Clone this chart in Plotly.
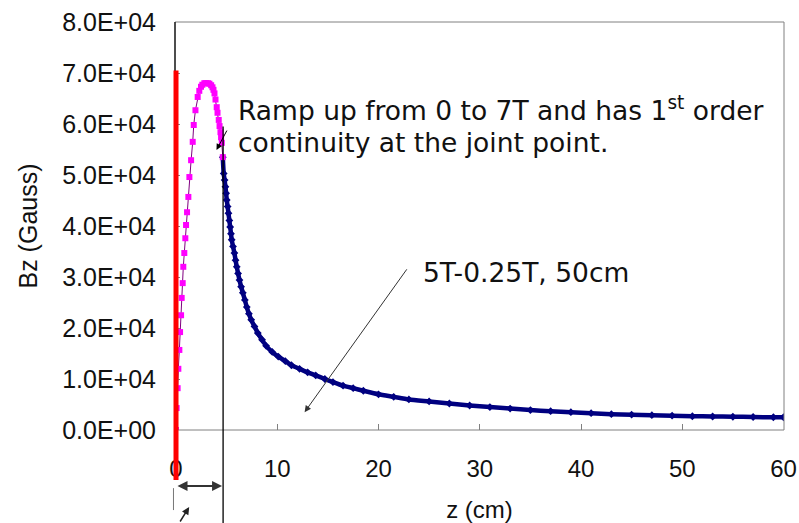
import plotly.graph_objects as go

# ---------------- data ----------------
ramp_z = [0.0, 0.06, 0.16, 0.23, 0.33, 0.40, 0.50, 0.56, 0.66, 0.72, 0.82, 0.92, 0.99,
          1.09, 1.22, 1.32, 1.49, 1.65, 1.75, 1.92, 2.14, 2.30, 2.47, 2.60, 2.80, 2.97,
          3.15, 3.30, 3.47, 3.60, 3.70, 3.80, 3.90, 4.02, 4.10, 4.22, 4.30, 4.39, 4.45,
          4.52, 4.62]
ramp_bz = [0, 4300, 8200, 12000, 15700, 19200, 22500, 25900, 28800, 32000, 34700, 37600, 40200,
           42700, 45700, 49600, 52900, 56500, 59800, 62700, 65300, 66500, 67300, 67700, 68000, 68000,
           68000, 67900, 67600, 67200, 66700, 66000, 64800, 63300, 62200, 60800, 59600, 58400, 57400,
           56300, 53500]

decay_z = [4.62, 4.71, 4.80, 4.88, 4.95, 5.01, 5.10, 5.18, 5.27, 5.35, 5.43, 5.50, 5.63, 5.77,
           5.88, 6.00, 6.13, 6.27, 6.43, 6.60, 6.80, 6.99, 7.20, 7.43, 7.75, 8.08, 8.50, 8.90,
           9.50, 10.1, 10.8, 11.4, 12.2, 13.0, 13.8, 14.7, 15.5, 16.5, 17.5, 18.5, 20.0, 21.5,
           23.0, 25.0, 27.0, 29.0, 31.0, 33.0, 35.0, 37.0, 39.0, 41.0, 43.0, 45.0, 47.0, 49.0,
           51.0, 53.0, 55.0, 57.0, 59.0, 60.0]
decay_bz = [53500, 50300, 49000, 47700, 46400, 45100, 43800, 42500, 41100, 39800, 38500, 37300,
            36000, 34700, 33300, 32000, 30700, 29400, 28100, 26900, 25500, 24100, 22800, 21600,
            20300, 19000, 17700, 16500, 15300, 14400, 13500, 12700, 12000, 11300, 10700, 10000,
            9400, 8700, 8200, 7700, 7000, 6500, 6000, 5600, 5200, 4800, 4500, 4200, 3900, 3700,
            3500, 3300, 3100, 3000, 2900, 2800, 2700, 2650, 2600, 2550, 2500, 2500]

y_tick_vals = [0, 10000, 20000, 30000, 40000, 50000, 60000, 70000, 80000]
y_tick_text = ["0.0E+00", "1.0E+04", "2.0E+04", "3.0E+04", "4.0E+04",
               "5.0E+04", "6.0E+04", "7.0E+04", "8.0E+04"]
x_tick_vals = [0, 10, 20, 30, 40, 50, 60]
x_tick_text = ["0", "10", "20", "30", "40", "50", "60"]

# annotation anchor values (data units)
edge_z, edge_top, edge_bottom = 0.0, 70500, -9800          # red coil edge line
joint_z, joint_top, joint_bottom = 4.65, 59500, -19000     # joint point line
length_arrow_z0, length_arrow_z1, length_arrow_b = 0.0, 4.55, -11000

X_RANGE = [-0.1, 60.05]
Y_RANGE = [0, 80000]
PLOT_W = 799 - 175 - 15


def px(z):
    return (z - X_RANGE[0]) / (X_RANGE[1] - X_RANGE[0])


def py(b):
    return (b - Y_RANGE[0]) / (Y_RANGE[1] - Y_RANGE[0])


FONT = "Arial, Liberation Sans, sans-serif"
NOTE_FONT = "DejaVu Sans, Arial, sans-serif"
NOTE_SIZE = 26.5

fig = go.Figure()

fig.add_trace(go.Scatter(
    x=decay_z, y=decay_bz, mode="lines+markers",
    line=dict(color="#000080", width=4.5, shape="spline", smoothing=0.6),
    marker=dict(symbol="diamond", size=6, color="#000080"),
    showlegend=False, hoverinfo="x+y"))

fig.add_trace(go.Scatter(
    x=ramp_z, y=ramp_bz, mode="lines+markers",
    line=dict(color="#800080", width=1),
    marker=dict(symbol="square", size=6, color="#FF00FF"),
    showlegend=False, hoverinfo="x+y"))

shapes = [
    # plot frame
    dict(type="rect", xref="paper", yref="paper", x0=0, x1=1, y0=0, y1=1,
         line=dict(color="#808080", width=1), layer="above"),
    # left axis line
    dict(type="line", xref="paper", yref="paper", x0=0, x1=0, y0=0, y1=1,
         line=dict(color="#000000", width=1.2), layer="above"),
    # joint line
    dict(type="line", xref="paper", yref="paper", x0=px(joint_z), x1=px(joint_z),
         y0=py(joint_bottom), y1=py(joint_top), line=dict(color="#000000", width=1.3)),
    # red edge line
    dict(type="line", xref="paper", yref="paper", x0=px(edge_z), x1=px(edge_z),
         y0=py(edge_bottom), y1=py(edge_top), line=dict(color="#FF0000", width=5), layer="above"),
    # small gray tick below
    dict(type="line", xref="paper", yref="paper", x0=px(-0.25), x1=px(-0.25),
         y0=py(-11400), y1=py(-15700), line=dict(color="#777777", width=1)),
]

annotations = [
    # double-headed length arrow below the axis
    dict(xref="paper", yref="paper", x=px(length_arrow_z1), y=py(length_arrow_b),
         ax=-(length_arrow_z1 - length_arrow_z0) * PLOT_W / (X_RANGE[1] - X_RANGE[0]), ay=0,
         text="", showarrow=True, arrowhead=2, arrowside="end+start", arrowsize=1,
         arrowwidth=2, arrowcolor="#333333", standoff=0, startstandoff=0),
    dict(xref="paper", yref="paper", x=px(1.3), y=py(-15100),
         ax=-10, ay=16, text="", showarrow=True, arrowhead=2, arrowsize=1,
         arrowwidth=1.5, arrowcolor="#222222"),
    # ramp arrow
    dict(xref="x", yref="y", x=4.0, y=54900, axref="x", ayref="y", ax=5.1, ay=59000,
         text="", showarrow=True, arrowhead=2, arrowsize=1.2, arrowwidth=1,
         arrowcolor="#000000"),
    # 5T arrow
    dict(xref="x", yref="y", x=12.7, y=3500, axref="x", ayref="y", ax=22.9, ay=31800,
         text="", showarrow=True, arrowhead=2, arrowsize=1.3, arrowwidth=1,
         arrowcolor="#333333"),
    dict(xref="x", yref="y", x=5.95, y=62900, xanchor="left", yanchor="middle",
         text="Ramp up from 0 to 7T and has 1<sup>st</sup> order", showarrow=False,
         font=dict(family=NOTE_FONT, size=NOTE_SIZE, color="#111111")),
    dict(xref="x", yref="y", x=5.95, y=56300, xanchor="left", yanchor="middle",
         text="continuity at the joint point.", showarrow=False,
         font=dict(family=NOTE_FONT, size=NOTE_SIZE, color="#111111")),
    dict(xref="x", yref="y", x=24.2, y=30800, xanchor="left", yanchor="middle",
         text="5T-0.25T, 50cm", showarrow=False,
         font=dict(family=NOTE_FONT, size=NOTE_SIZE, color="#111111")),
]

fig.update_layout(
    width=799, height=523,
    margin=dict(l=175, r=15, t=22, b=93),
    paper_bgcolor="white", plot_bgcolor="white",
    font=dict(family=FONT, size=24, color="#111111"),
    shapes=shapes, annotations=annotations,
    xaxis=dict(range=X_RANGE, tickvals=x_tick_vals, ticktext=x_tick_text,
               showgrid=False, zeroline=False, showline=False, automargin=False,
               ticks="inside", ticklen=6, tickcolor="#808080", tickwidth=1,
               ticklabelstandoff=22,
               title=dict(text="z (cm)", standoff=22, font=dict(size=24))),
    yaxis=dict(range=Y_RANGE, tickvals=y_tick_vals, ticktext=y_tick_text,
               showgrid=False, zeroline=False, showline=False, automargin=False,
               ticks="inside", ticklen=5, tickcolor="#808080", tickwidth=1,
               ticklabelstandoff=18, tickfont=dict(size=25),
               title=dict(text="Bz (Gauss)", standoff=17, font=dict(size=25))),
)

fig.write_html("out.html", config={"displayModeBar": False},
               post_script="document.body.style.margin='0';")
